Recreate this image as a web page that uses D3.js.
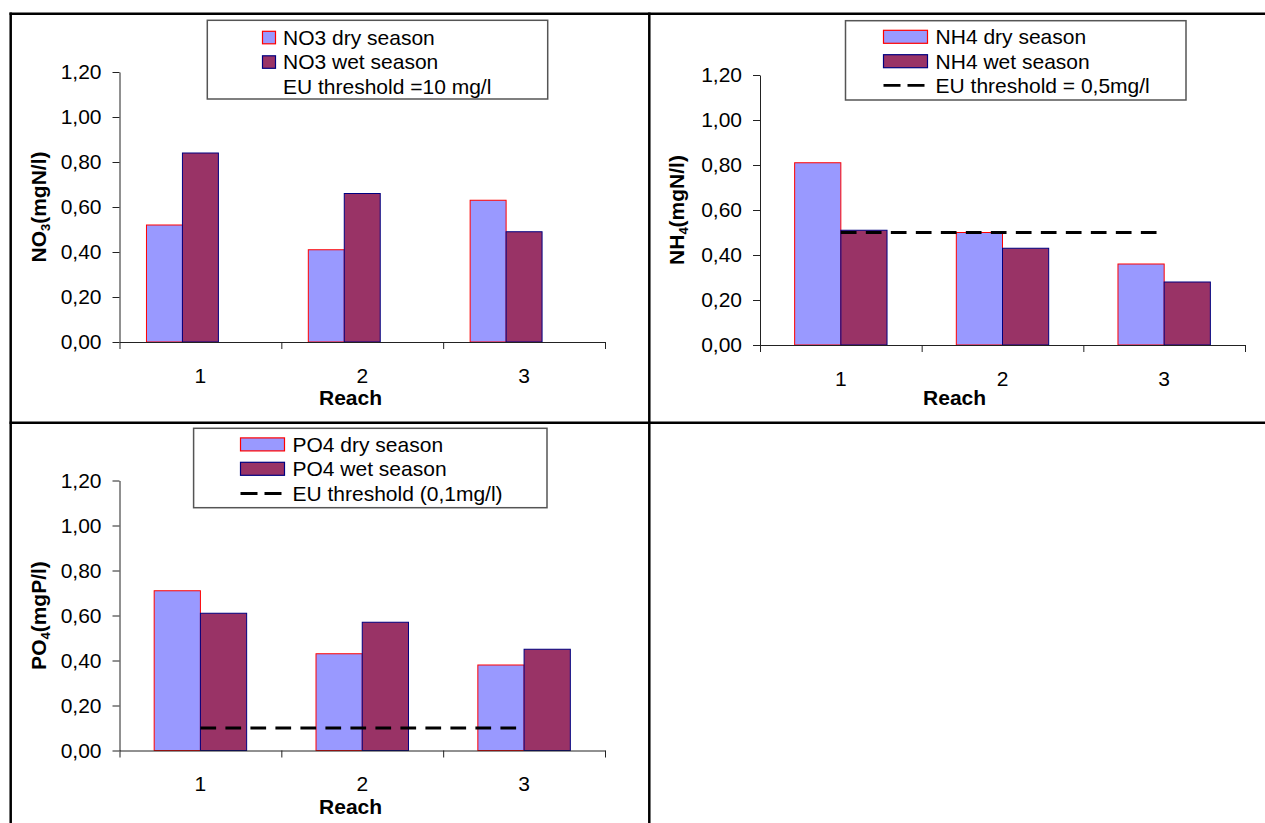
<!DOCTYPE html>
<html>
<head>
<meta charset="utf-8">
<script src="https://cdn.jsdelivr.net/npm/d3@7"></script>
<style>
  html, body { margin: 0; padding: 0; background: #fff; }
  svg { display: block; }
  text { font-family: "Liberation Sans", Arial, sans-serif; fill: #000; }
</style>
</head>
<body>
<svg id="chart" width="1265" height="823"></svg>
<script>
// Reaches along the river (category axis)
const reaches = ["1", "2", "3"];

// Nitrate, mgN/l
const no3Dry = [0.52, 0.41, 0.63];
const no3Wet = [0.84, 0.66, 0.49];

// Ammonium, mgN/l, with EU limit
const nh4Dry = [0.81, 0.50, 0.36];
const nh4Wet = [0.51, 0.43, 0.28];
const nh4Threshold = [0.5, 0.5, 0.5];

// Phosphate, mgP/l, with EU limit
const po4Dry = [0.71, 0.43, 0.38];
const po4Wet = [0.61, 0.57, 0.45];
const po4Threshold = [0.1, 0.1, 0.1];

// Value axis ticks
const yTicks = [0, 0.2, 0.4, 0.6, 0.8, 1.0, 1.2];

const DRY_FILL = "#9999ff", DRY_STROKE = "#ff0000";
const WET_FILL = "#993366", WET_STROKE = "#000080";
const FONT = 21;

const svg = d3.select("#chart");

// Outer frame and panel dividers
const frame = svg.append("g").attr("stroke", "#000").attr("stroke-width", 2.5);
frame.append("line").attr("x1", 9.5).attr("x2", 1265).attr("y1", 13.8).attr("y2", 13.8);
frame.append("line").attr("x1", 10.7).attr("x2", 10.7).attr("y1", 12.5).attr("y2", 823);
frame.append("line").attr("x1", 649.3).attr("x2", 649.3).attr("y1", 12.5).attr("y2", 823);
frame.append("line").attr("x1", 9.5).attr("x2", 1265).attr("y1", 422.7).attr("y2", 422.7);

const locale = d3.formatLocale({ decimal: ",", thousands: ".", grouping: [3], currency: ["", ""] });
const fmt = locale.format(".2f");

const panels = [
  {
    title: ["NO", "3", "(mgN/l)"],
    series: [
      { name: "NO3 dry season", values: no3Dry, fill: DRY_FILL, stroke: DRY_STROKE },
      { name: "NO3 wet season", values: no3Wet, fill: WET_FILL, stroke: WET_STROKE },
      { name: "EU threshold =10 mg/l", values: null }
    ],
    threshold: null,
    legendSymbol: "square",
    plot: { x0: 119.5, x1: 605, yTop: 72, yBottom: 342 },
    titleX: 38, reachX: 350.5, reachDy: 63,
    legend: { x: 207.3, y: 20.3, w: 340.4, h: 78.7, symX: 262.5, textX: 283, rows: [37.3, 61.8, 86.3] }
  },
  {
    title: ["NH", "4", "(mgN/l)"],
    series: [
      { name: "NH4 dry season", values: nh4Dry, fill: DRY_FILL, stroke: DRY_STROKE },
      { name: "NH4 wet season", values: nh4Wet, fill: WET_FILL, stroke: WET_STROKE }
    ],
    threshold: { name: "EU threshold = 0,5mg/l", values: nh4Threshold },
    legendSymbol: "wide",
    plot: { x0: 760, x1: 1245, yTop: 75, yBottom: 345 },
    titleX: 676, reachX: 954.6, reachDy: 60,
    legend: { x: 845.5, y: 20.7, w: 340.5, h: 79.3, symX: 883.5, textX: 935.6, rows: [36.8, 61.2, 85.3] }
  },
  {
    title: ["PO", "4", "(mgP/l)"],
    series: [
      { name: "PO4 dry season", values: po4Dry, fill: DRY_FILL, stroke: DRY_STROKE },
      { name: "PO4 wet season", values: po4Wet, fill: WET_FILL, stroke: WET_STROKE }
    ],
    threshold: { name: "EU threshold (0,1mg/l)", values: po4Threshold },
    legendSymbol: "wide",
    plot: { x0: 119.5, x1: 605, yTop: 480.5, yBottom: 750.5 },
    titleX: 38, reachX: 350.6, reachDy: 63,
    legend: { x: 193.6, y: 428.3, w: 353.4, h: 79.4, symX: 240.5, textX: 292.5, rows: [444.4, 468.8, 493.5] }
  }
];

panels.forEach(p => {
  const g = svg.append("g");
  const P = p.plot;

  const y = d3.scaleLinear().domain([0, 1.2]).range([P.yBottom, P.yTop]);
  const x = d3.scaleBand().domain(reaches).range([P.x0, P.x1]).paddingInner(0).paddingOuter(0);
  // Excel-style gap width of 150% between category groups
  const xs = d3.scaleBand().domain(p.series.map(s => s.name)).range([0, x.bandwidth()])
    .paddingInner(0).paddingOuter(0.75);

  // Bars
  p.series.filter(s => s.values).forEach(s => {
    g.append("g").selectAll("rect").data(s.values).join("rect")
      .attr("x", (d, i) => x(reaches[i]) + xs(s.name))
      .attr("y", d => y(d))
      .attr("width", xs.bandwidth())
      .attr("height", d => y(0) - y(d))
      .attr("fill", s.fill)
      .attr("stroke", s.stroke)
      .attr("stroke-width", 1);
  });

  // Threshold line across category centres
  if (p.threshold) {
    const line = d3.line()
      .x((d, i) => x(reaches[i]) + x.bandwidth() / 2)
      .y(d => y(d));
    g.append("path").datum(p.threshold.values)
      .attr("d", line)
      .attr("fill", "none")
      .attr("stroke", "#000")
      .attr("stroke-width", 2.8)
      .attr("stroke-dasharray", "15.7,9.3");
  }

  // Value axis
  const yAxis = g.append("g").attr("transform", `translate(${P.x0},0)`)
    .call(d3.axisLeft(y).tickValues(yTicks).tickFormat(fmt).tickSize(7).tickSizeOuter(0).tickPadding(11));
  yAxis.selectAll("text").attr("font-size", FONT).style("font-family", '"Liberation Sans", Arial, sans-serif').attr("fill", "#000");

  // Category axis: boundary ticks
  const xLin = d3.scaleLinear().domain([0, reaches.length]).range([P.x0, P.x1]);
  const xAxis = g.append("g").attr("transform", `translate(0,${P.yBottom})`)
    .call(d3.axisBottom(xLin).tickValues(d3.range(reaches.length + 1)).tickFormat("").tickSize(7).tickSizeOuter(0));
  // Category labels
  const xLab = g.append("g").attr("transform", `translate(0,${P.yBottom})`)
    .call(d3.axisBottom(x).tickSize(0).tickPadding(26));
  xLab.select(".domain").remove();
  xLab.selectAll("text").attr("font-size", FONT).style("font-family", '"Liberation Sans", Arial, sans-serif').attr("fill", "#000");

  [yAxis, xAxis].forEach(a => {
    a.selectAll("path, line").attr("stroke", "#222").attr("stroke-width", 1);
  });

  // Axis titles
  g.append("text")
    .attr("x", p.reachX).attr("y", P.yBottom + p.reachDy)
    .attr("text-anchor", "middle").attr("font-size", FONT).attr("font-weight", "bold")
    .text("Reach");

  const yt = g.append("text")
    .attr("transform", `translate(${p.titleX},${(P.yTop + P.yBottom) / 2}) rotate(-90)`)
    .attr("text-anchor", "middle").attr("dy", "0.36em")
    .attr("font-size", FONT).attr("font-weight", "bold");
  yt.append("tspan").text(p.title[0]);
  yt.append("tspan").attr("font-size", 13).attr("dy", 4).text(p.title[1]);
  yt.append("tspan").attr("dy", -4).text(p.title[2]);

  // Legend
  const L = p.legend;
  const lg = svg.append("g");
  lg.append("rect").attr("x", L.x).attr("y", L.y).attr("width", L.w).attr("height", L.h)
    .attr("fill", "#fff").attr("stroke", "#555").attr("stroke-width", 1.5);

  const items = p.series.map(s => ({ name: s.name, kind: s.values ? "bar" : "none", fill: s.fill, stroke: s.stroke }));
  if (p.threshold) items.push({ name: p.threshold.name, kind: "line" });

  items.forEach((it, i) => {
    const cy = L.rows[i];
    if (it.kind === "bar") {
      if (p.legendSymbol === "square") {
        lg.append("rect").attr("x", L.symX).attr("y", cy - 6).attr("width", 13).attr("height", 12.5)
          .attr("fill", it.fill).attr("stroke", it.stroke).attr("stroke-width", 1.2);
      } else {
        lg.append("rect").attr("x", L.symX).attr("y", cy - 6.5).attr("width", 44).attr("height", 13)
          .attr("fill", it.fill).attr("stroke", it.stroke).attr("stroke-width", 1.2);
      }
    } else if (it.kind === "line") {
      lg.append("line").attr("x1", L.symX).attr("x2", L.symX + 43).attr("y1", cy).attr("y2", cy)
        .attr("stroke", "#000").attr("stroke-width", 2.8).attr("stroke-dasharray", "17,7");
    }
    lg.append("text").attr("x", L.textX).attr("y", cy + 7.5)
      .attr("font-size", FONT).text(it.name);
  });
});
</script>
</body>
</html>
